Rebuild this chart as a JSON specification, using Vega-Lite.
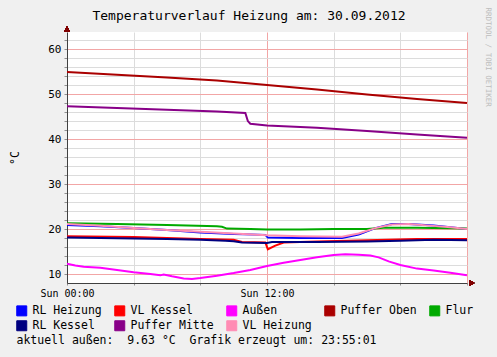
{
  "$schema": "https://vega.github.io/schema/vega-lite/v6.json",
  "width": 400,
  "height": 251,
  "autosize": {"type": "none"},
  "padding": {"left": 67, "top": 32, "right": 30, "bottom": 74},
  "background": "#F0F0F0",
  "config": {"view": {"fill": "white", "stroke": null}, "font": "DejaVu Sans Mono"},
  "title": {"text": "Temperaturverlauf Heizung am: 30.09.2012", "fontSize": 13, "fontWeight": "normal", "font": "DejaVu Sans Mono", "color": "black", "frame": "group", "anchor": "middle", "dx": -18, "offset": 9, "dy": 25},
  "datasets": {
    "temps": [
      {"s": "RL Heizung", "h": 0, "v": 20.9}, {"s": "RL Heizung", "h": 2, "v": 20.6}, {"s": "RL Heizung", "h": 4, "v": 20.2}, {"s": "RL Heizung", "h": 6, "v": 19.8}, {"s": "RL Heizung", "h": 8, "v": 19.2}, {"s": "RL Heizung", "h": 10, "v": 18.9}, {"s": "RL Heizung", "h": 11.9, "v": 18.7}, {"s": "RL Heizung", "h": 12.05, "v": 18.1}, {"s": "RL Heizung", "h": 14, "v": 18.0}, {"s": "RL Heizung", "h": 16.5, "v": 18.0}, {"s": "RL Heizung", "h": 17.5, "v": 18.8}, {"s": "RL Heizung", "h": 18.5, "v": 20.2}, {"s": "RL Heizung", "h": 19.5, "v": 21.1}, {"s": "RL Heizung", "h": 20.5, "v": 21.1}, {"s": "RL Heizung", "h": 22, "v": 20.8}, {"s": "RL Heizung", "h": 23, "v": 20.4}, {"s": "RL Heizung", "h": 24, "v": 20.0},
      {"s": "VL Kessel", "h": 0, "v": 18.4}, {"s": "VL Kessel", "h": 4, "v": 18.2}, {"s": "VL Kessel", "h": 8, "v": 17.8}, {"s": "VL Kessel", "h": 10, "v": 17.6}, {"s": "VL Kessel", "h": 10.5, "v": 17.1}, {"s": "VL Kessel", "h": 11.9, "v": 17.0}, {"s": "VL Kessel", "h": 12.05, "v": 15.5}, {"s": "VL Kessel", "h": 12.5, "v": 16.3}, {"s": "VL Kessel", "h": 13, "v": 17.0}, {"s": "VL Kessel", "h": 15, "v": 17.2}, {"s": "VL Kessel", "h": 18, "v": 17.5}, {"s": "VL Kessel", "h": 21, "v": 17.8}, {"s": "VL Kessel", "h": 24, "v": 17.8},
      {"s": "Außen", "h": 0, "v": 12.3}, {"s": "Außen", "h": 0.5, "v": 11.9}, {"s": "Außen", "h": 1, "v": 11.6}, {"s": "Außen", "h": 2, "v": 11.4}, {"s": "Außen", "h": 3, "v": 10.9}, {"s": "Außen", "h": 4, "v": 10.4}, {"s": "Außen", "h": 5, "v": 10.0}, {"s": "Außen", "h": 5.6, "v": 9.7}, {"s": "Außen", "h": 5.8, "v": 9.9}, {"s": "Außen", "h": 6.3, "v": 9.5}, {"s": "Außen", "h": 7, "v": 9.0}, {"s": "Außen", "h": 7.5, "v": 8.9}, {"s": "Außen", "h": 8, "v": 9.1}, {"s": "Außen", "h": 9, "v": 9.6}, {"s": "Außen", "h": 10, "v": 10.2}, {"s": "Außen", "h": 11, "v": 10.9}, {"s": "Außen", "h": 12, "v": 11.8}, {"s": "Außen", "h": 13, "v": 12.5}, {"s": "Außen", "h": 14, "v": 13.1}, {"s": "Außen", "h": 15, "v": 13.7}, {"s": "Außen", "h": 16, "v": 14.2}, {"s": "Außen", "h": 16.7, "v": 14.4}, {"s": "Außen", "h": 17.5, "v": 14.3}, {"s": "Außen", "h": 18.2, "v": 14.1}, {"s": "Außen", "h": 18.7, "v": 13.7}, {"s": "Außen", "h": 19.3, "v": 12.8}, {"s": "Außen", "h": 20, "v": 12.0}, {"s": "Außen", "h": 21, "v": 11.2}, {"s": "Außen", "h": 22, "v": 10.8}, {"s": "Außen", "h": 23, "v": 10.3}, {"s": "Außen", "h": 24, "v": 9.7},
      {"s": "Puffer Oben", "h": 0, "v": 54.9}, {"s": "Puffer Oben", "h": 3, "v": 54.3}, {"s": "Puffer Oben", "h": 6, "v": 53.7}, {"s": "Puffer Oben", "h": 9, "v": 53.0}, {"s": "Puffer Oben", "h": 12, "v": 52.0}, {"s": "Puffer Oben", "h": 15, "v": 51.0}, {"s": "Puffer Oben", "h": 18, "v": 49.9}, {"s": "Puffer Oben", "h": 21, "v": 48.9}, {"s": "Puffer Oben", "h": 24, "v": 48.0},
      {"s": "Flur", "h": 0, "v": 21.3}, {"s": "Flur", "h": 3, "v": 21.1}, {"s": "Flur", "h": 6, "v": 20.9}, {"s": "Flur", "h": 9, "v": 20.6}, {"s": "Flur", "h": 9.3, "v": 20.5}, {"s": "Flur", "h": 9.6, "v": 20.1}, {"s": "Flur", "h": 11, "v": 20.0}, {"s": "Flur", "h": 12, "v": 19.9}, {"s": "Flur", "h": 14, "v": 19.9}, {"s": "Flur", "h": 16, "v": 20.0}, {"s": "Flur", "h": 18, "v": 20.0}, {"s": "Flur", "h": 19, "v": 20.3}, {"s": "Flur", "h": 21, "v": 20.3}, {"s": "Flur", "h": 24, "v": 20.1},
      {"s": "RL Kessel", "h": 0, "v": 18.1}, {"s": "RL Kessel", "h": 2, "v": 18.0}, {"s": "RL Kessel", "h": 4, "v": 17.9}, {"s": "RL Kessel", "h": 6, "v": 17.8}, {"s": "RL Kessel", "h": 8, "v": 17.6}, {"s": "RL Kessel", "h": 9.5, "v": 17.4}, {"s": "RL Kessel", "h": 10, "v": 17.3}, {"s": "RL Kessel", "h": 10.5, "v": 17.0}, {"s": "RL Kessel", "h": 12, "v": 16.9}, {"s": "RL Kessel", "h": 12.3, "v": 17.1}, {"s": "RL Kessel", "h": 15, "v": 17.1}, {"s": "RL Kessel", "h": 18, "v": 17.2}, {"s": "RL Kessel", "h": 20, "v": 17.4}, {"s": "RL Kessel", "h": 22, "v": 17.6}, {"s": "RL Kessel", "h": 24, "v": 17.5},
      {"s": "Puffer Mitte", "h": 0, "v": 47.3}, {"s": "Puffer Mitte", "h": 3, "v": 46.9}, {"s": "Puffer Mitte", "h": 6, "v": 46.5}, {"s": "Puffer Mitte", "h": 9, "v": 46.1}, {"s": "Puffer Mitte", "h": 10.7, "v": 45.8}, {"s": "Puffer Mitte", "h": 10.85, "v": 44.0}, {"s": "Puffer Mitte", "h": 11, "v": 43.4}, {"s": "Puffer Mitte", "h": 12, "v": 43.0}, {"s": "Puffer Mitte", "h": 15, "v": 42.5}, {"s": "Puffer Mitte", "h": 18, "v": 41.8}, {"s": "Puffer Mitte", "h": 21, "v": 41.0}, {"s": "Puffer Mitte", "h": 24, "v": 40.3},
      {"s": "VL Heizung", "h": 0, "v": 21.1}, {"s": "VL Heizung", "h": 2, "v": 20.7}, {"s": "VL Heizung", "h": 4, "v": 20.2}, {"s": "VL Heizung", "h": 6, "v": 19.8}, {"s": "VL Heizung", "h": 8, "v": 19.4}, {"s": "VL Heizung", "h": 10, "v": 19.0}, {"s": "VL Heizung", "h": 12, "v": 18.6}, {"s": "VL Heizung", "h": 14, "v": 18.4}, {"s": "VL Heizung", "h": 16.5, "v": 18.3}, {"s": "VL Heizung", "h": 17.5, "v": 19.0}, {"s": "VL Heizung", "h": 18.5, "v": 20.2}, {"s": "VL Heizung", "h": 19.5, "v": 21.0}, {"s": "VL Heizung", "h": 20.5, "v": 21.1}, {"s": "VL Heizung", "h": 22, "v": 20.7}, {"s": "VL Heizung", "h": 23, "v": 20.4}, {"s": "VL Heizung", "h": 24, "v": 20.0}
    ]
  },
  "data": {"name": "temps"},
  "layer": [
    {
      "mark": {"type": "line", "strokeWidth": 2, "clip": true},
      "encoding": {
        "x": {
          "field": "h", "type": "quantitative",
          "scale": {"domain": [0, 24], "nice": false},
          "axis": {
            "values": [0,1,2,3,4,5,6,7,8,9,10,11,12,13,14,15,16,17,18,19,20,21,22,23,24],
            "grid": true,
            "gridColor": {"condition": {"test": "datum.value % 6 === 0", "value": "#F2A6A6"}, "value": "#DCDCDC"},
            "gridOpacity": 1,
            "labelExpr": "datum.value === 0 ? 'Sun 00:00' : (datum.value === 12 ? 'Sun 12:00' : '')",
            "labelFlush": false,
            "labelOverlap": false,
            "labelFont": "DejaVu Sans Mono",
            "labelFontSize": 10,
            "labelColor": "black",
            "labelPadding": 3,
            "tickSize": 2,
            "tickColor": "#909090",
            "domainColor": "#404040",
            "title": "aktuell außen:\u00a0\u00a09.63 °C\u00a0\u00a0Grafik erzeugt um: 23:55:01",
            "titleFont": "DejaVu Sans Mono",
            "titleFontSize": 11.5,
            "titleFontWeight": "normal",
            "titleColor": "black",
            "titleAlign": "left",
            "titleAnchor": "start",
            "titleBaseline": "middle",
            "titleX": -51,
            "titleY": 57
          }
        },
        "y": {
          "field": "v", "type": "quantitative",
          "scale": {"domain": [8, 63.8], "nice": false, "zero": false},
          "axis": {
            "values": [10,12,14,16,18,20,22,24,26,28,30,32,34,36,38,40,42,44,46,48,50,52,54,56,58,60,62],
            "grid": true,
            "gridColor": {"condition": {"test": "datum.value % 10 === 0", "value": "#F2A6A6"}, "value": "#DCDCDC"},
            "gridOpacity": 1,
            "labelExpr": "datum.value % 10 === 0 ? datum.label : ''",
            "labelOverlap": false,
            "labelFont": "DejaVu Sans Mono",
            "labelFontSize": 11,
            "labelColor": "black",
            "labelPadding": 3,
            "tickSize": 3,
            "tickColor": "#909090",
            "domainColor": "#404040",
            "title": "°C",
            "titleFont": "DejaVu Sans Mono",
            "titleFontSize": 11.5,
            "titleFontWeight": "normal",
            "titleColor": "black",
            "titleX": -47
          }
        },
        "color": {
          "field": "s", "type": "nominal",
          "scale": {
            "domain": ["RL Heizung", "VL Kessel", "Außen", "Puffer Oben", "Flur", "RL Kessel", "Puffer Mitte", "VL Heizung"],
            "range": ["#0000FF", "#FF0000", "#FF00FF", "#AA0000", "#00AA00", "#000080", "#880088", "#FF8CB4"]
          },
          "legend": {
            "orient": "none",
            "legendX": -51,
            "legendY": 273,
            "direction": "horizontal",
            "columns": 5,
            "columnPadding": 10,
            "rowPadding": 0,
            "title": null,
            "symbolType": "square",
            "symbolSize": 100,
            "symbolStrokeWidth": 1,
            "labelFont": "DejaVu Sans Mono",
            "labelFontSize": 11.5,
            "labelColor": "black",
            "labelOffset": 5,
            "encode": {"symbols": {"update": {"fill": {"scale": "color", "field": "value"}, "stroke": {"value": "black"}, "fillOpacity": {"value": 1}}}}
          }
        }
      }
    },
    {
      "mark": {"type": "point", "shape": "triangle-up", "filled": true, "color": "#800000", "size": 25, "opacity": 1, "clip": false, "yOffset": -3},
      "encoding": {
        "x": {"datum": 0},
        "y": {
          "datum": 63.8,
          "axis": {
            "orient": "right", "labels": false, "ticks": false, "domain": false, "grid": false,
            "title": "RRDTOOL / TOBI OETIKER",
            "titleAngle": 90, "titleColor": "#BDBDBD", "titleFont": "DejaVu Sans Mono", "titleFontSize": 7.5, "titleFontWeight": "normal",
            "titleX": 20, "titleY": -25, "titleAlign": "left", "titleBaseline": "middle"
          }
        }
      }
    },
    {
      "mark": {"type": "point", "shape": "triangle-right", "filled": true, "color": "#800000", "size": 25, "opacity": 1, "clip": false, "xOffset": 5},
      "encoding": {
        "x": {"datum": 24},
        "y": {"datum": 8, "axis": null}
      }
    }
  ],
  "resolve": {"axis": {"y": "independent"}}
}
